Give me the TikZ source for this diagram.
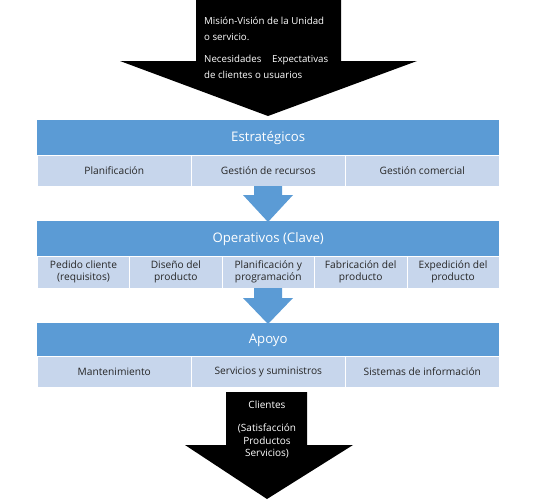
\documentclass[tikz,border=0pt]{standalone}
\usepackage{fontspec}
\setmainfont{Open Sans}
\definecolor{hdrblue}{HTML}{5B9BD5}
\definecolor{subblue}{HTML}{C7D6EC}
\begin{document}
\begin{tikzpicture}[x=1pt,y=-1pt,
  hdrbox/.style={fill=hdrblue, draw=none, anchor=north west, minimum height=35pt, minimum width=462pt, inner sep=0pt, text=white, font=\fontsize{13.2}{15}\selectfont},
  cell3/.style={fill=subblue, draw=white, line width=0.6pt, anchor=north west, minimum height=31pt, minimum width=154pt, inner sep=0pt, font=\fontsize{10.2}{12}\selectfont, align=center, text=black!85},
  cell5/.style={cell3, minimum width=92.4pt, minimum height=32pt},
  blackarrow/.style={fill=black, draw=none},
  bluearrow/.style={fill=hdrblue, draw=none},
  wtext/.style={text=white, font=\fontsize{9.7}{11}\selectfont, inner sep=0pt}
]
\useasboundingbox (0,0) rectangle (544,499);

% top black arrow
\coordinate (ta1) at (196,0);
\coordinate (ta2) at (341,0);
\fill[blackarrow] (ta1) -- (ta2) -- (341,61) -- (417,61) -- (268,116) -- (120,61) -- (196,61) -- cycle;
\node[wtext, anchor=west] (t1) at (204,21) {Misión-Visión de la Unidad};
\node[wtext, anchor=west] (t2) at (204,37) {o servicio.};
\node[wtext, anchor=west] (t3) at (204,60) {Necesidades\hspace{1.1em}Expectativas};
\node[wtext, anchor=west] (t4) at (204,75) {de clientes o usuarios};

% Estrategicos
\node[hdrbox] (est) at (37,120) {Estratégicos};
\node[cell3] (e1) at (37,155) {Planificación};
\node[cell3] (e2) at (191,155) {Gestión de recursos};
\node[cell3] (e3) at (345,155) {Gestión comercial};

% blue arrow 1
\fill[bluearrow] (254,186) -- (282,186) -- (282,195) -- (293,195) -- (268,222) -- (243,195) -- (254,195) -- cycle;

% Operativos
\node[hdrbox] (op) at (37,221) {Operativos (Clave)};
\node[cell5] (o1) at (37,256) {Pedido cliente\\(requisitos)};
\node[cell5] (o2) at (129.4,256) {Diseño del\\producto};
\node[cell5] (o3) at (221.8,256) {Planificación y\\programación};
\node[cell5] (o4) at (314.2,256) {Fabricación del\\producto};
\node[cell5] (o5) at (406.6,256) {Expedición del\\producto};

% blue arrow 2
\fill[bluearrow] (254,288) -- (282,288) -- (282,298) -- (293,298) -- (268,324) -- (243,298) -- (254,298) -- cycle;

% Apoyo
\node[hdrbox] (ap) at (37,323) {Apoyo};
\node[cell3] (a1) at (37,356) {Mantenimiento};
\node[cell3] (a2) at (191,356) {Servicios y suministros};
\node[cell3] (a3) at (345,356) {Sistemas de información};

% bottom black arrow
\fill[blackarrow] (226,392) -- (307,392) -- (307,445) -- (353,445) -- (267,499) -- (185,445) -- (226,445) -- cycle;
\node[wtext, font=\fontsize{10}{12}\selectfont] (b1) at (267,405) {Clientes};
\node[wtext, align=center, font=\fontsize{10}{12.3}\selectfont] (b2) at (267,441) {(Satisfacción\\Productos\\Servicios)};
\end{tikzpicture}
\end{document}
